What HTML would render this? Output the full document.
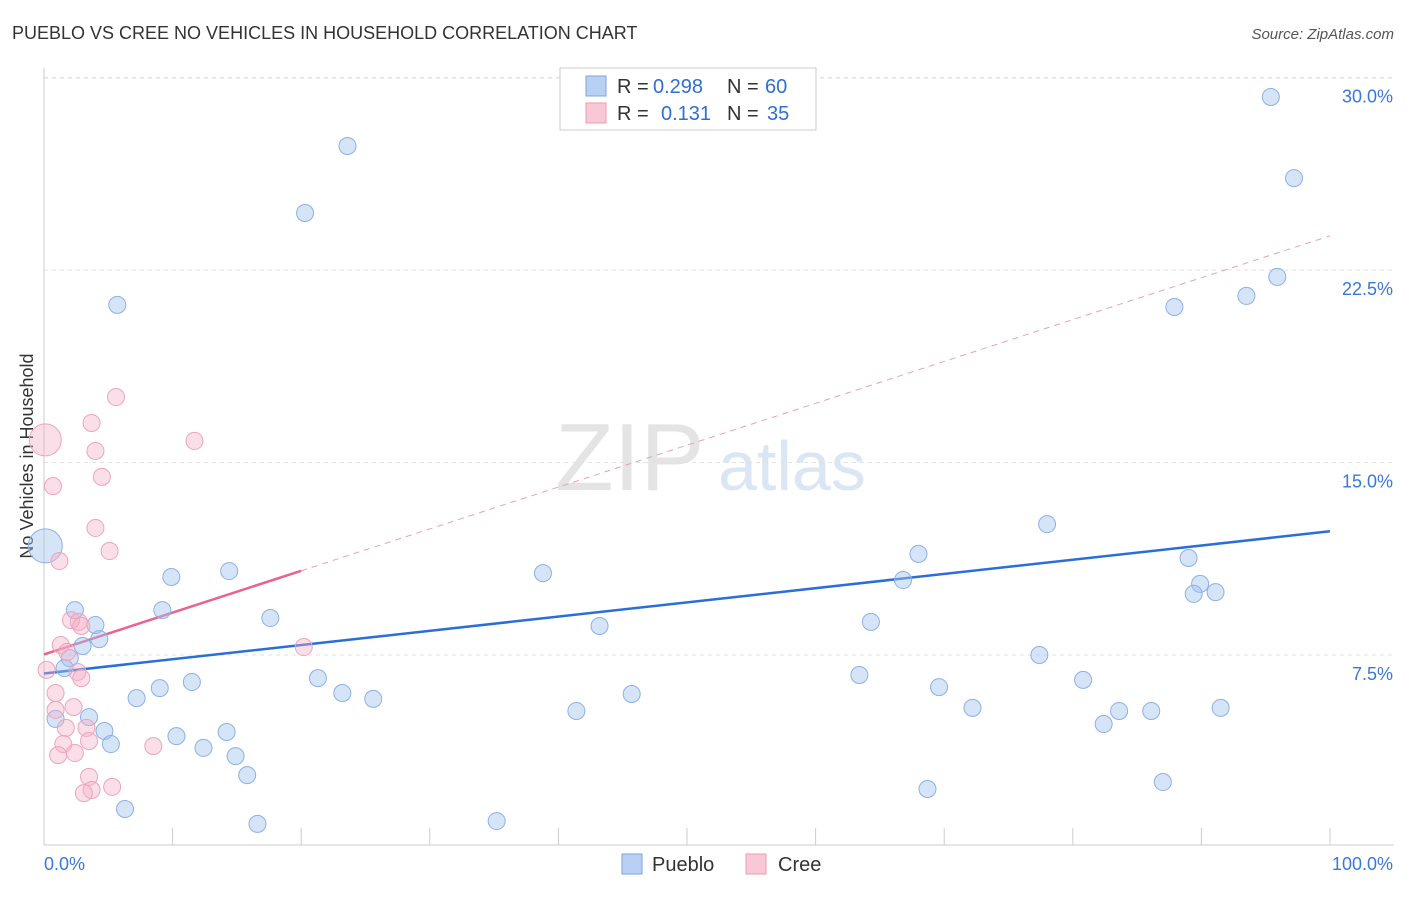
<!DOCTYPE html>
<html><head><meta charset="utf-8"><style>
body{margin:0;background:#fff;font-family:"Liberation Sans",sans-serif}
svg text{font-family:"Liberation Sans",sans-serif}
</style></head><body>
<svg id="chart" width="1406" height="892">
<text x="12" y="39" font-size="18" fill="#333">PUEBLO VS CREE NO VEHICLES IN HOUSEHOLD CORRELATION CHART</text>
<text x="1394" y="39" font-size="15" fill="#555" text-anchor="end" font-style="italic">Source: ZipAtlas.com</text>
<text x="33" y="456" font-size="18" fill="#333" text-anchor="middle" transform="rotate(-90 33 456)">No Vehicles in Household</text>
<text x="555" y="490" font-size="96" fill="#e4e4e4" font-family="Liberation Serif">ZIP</text>
<text x="718" y="490" font-size="70" fill="#dbe6f5">atlas</text>
<g id="grid"></g><g id="axes"></g><g id="lines"></g><g id="pts"></g>
<g>
<rect x="560" y="68" width="256" height="62" fill="#fff" stroke="#ccc"/>
<rect x="586" y="76" width="20" height="20" fill="#b7d0f3" stroke="#7ea6e0"/>
<text x="617" y="93" font-size="20" fill="#333">R =</text>
<text x="653" y="93" font-size="20" fill="#2f6fd0">0.298</text>
<text x="727" y="93" font-size="20" fill="#333">N =</text>
<text x="765" y="93" font-size="20" fill="#2f6fd0">60</text>
<rect x="586" y="103" width="20" height="20" fill="#f9c8d6" stroke="#ee9ab4"/>
<text x="617" y="120" font-size="20" fill="#333">R =</text>
<text x="661" y="120" font-size="20" fill="#2f6fd0">0.131</text>
<text x="727" y="120" font-size="20" fill="#333">N =</text>
<text x="767" y="120" font-size="20" fill="#2f6fd0">35</text>
</g>
<g>
<rect x="622" y="854" width="20" height="20" fill="#b7d0f3" stroke="#7ea6e0"/>
<text x="652" y="871" font-size="20" fill="#333">Pueblo</text>
<rect x="746" y="854" width="20" height="20" fill="#f9c8d6" stroke="#ee9ab4"/>
<text x="778" y="871" font-size="20" fill="#333">Cree</text>
</g>
</svg>
<script>
const yTicks=[7.5,15.0,22.5,30.0];
const yTickLabels=["7.5%","15.0%","22.5%","30.0%"];
const xTickLabels=["0.0%","100.0%"];
const puebloX=[95.4,23.6,97.2,20.3,95.9,93.5,87.9,5.7,78.0,89.0,68.0,38.8,14.4,9.9,66.8,89.9,89.4,91.1,2.4,9.2,17.6,64.3,43.2,4.0,4.3,3.0,77.4,2.0,1.6,63.4,21.3,80.8,11.5,9.0,69.6,45.7,23.2,7.2,25.6,72.2,91.5,83.6,86.1,41.4,0.9,3.5,82.4,4.7,14.2,10.3,5.2,12.4,14.9,15.8,87.0,68.7,6.3,35.2,16.6,0.1];
const puebloY=[29.24,27.33,26.08,24.72,22.23,21.49,21.06,21.14,12.60,11.28,11.44,10.69,10.77,10.54,10.42,10.27,9.88,9.95,9.25,9.25,8.94,8.79,8.63,8.67,8.12,7.85,7.50,7.38,6.99,6.72,6.60,6.53,6.45,6.21,6.25,5.98,6.02,5.82,5.79,5.44,5.44,5.32,5.32,5.32,5.01,5.08,4.81,4.54,4.50,4.34,4.03,3.88,3.56,2.82,2.55,2.28,1.50,1.03,0.92,11.75];
const creeX=[0.1,5.6,3.7,4.0,11.7,4.5,0.7,4.0,5.1,1.2,2.1,2.7,2.9,1.3,20.2,1.8,2.6,2.9,0.2,0.9,2.3,0.9,1.7,3.3,3.5,1.5,8.5,2.4,1.1,3.5,5.3,3.7,3.1];
const creeY=[15.88,17.55,16.54,15.45,15.84,14.44,14.08,12.45,11.55,11.16,8.86,8.79,8.63,7.89,7.81,7.62,6.84,6.60,6.92,6.02,5.47,5.36,4.66,4.66,4.15,4.03,3.95,3.68,3.60,2.75,2.36,2.24,2.12];
const puebloTrend=[6.78,12.32];
const creeTrend=[7.52,23.83];
const NS="http://www.w3.org/2000/svg";
const X=v=>44+v*12.86, Y=v=>847.5-v*25.667;
function mk(t,a,p){const e=document.createElementNS(NS,t);for(const k in a)e.setAttribute(k,a[k]);document.getElementById(p).appendChild(e);return e;}
yTicks.forEach((t,i)=>{
 const g=mk('line',{x1:44,x2:1394,y1:Y(t),y2:Y(t),stroke:'#e2e2e2','stroke-dasharray':'4,4'},'grid');
 
 
 const l=mk('text',{x:1393,y:Y(t)+25,'font-size':18,fill:'#3a78d8','text-anchor':'end'},'axes');
 l.textContent=yTickLabels[i];
 
 
});
mk('line',{x1:44,x2:1394,y1:78,y2:78,stroke:'#e2e2e2','stroke-dasharray':'4,4'},'grid');
mk('line',{x1:44,x2:44,y1:68,y2:845,stroke:'#ccc'},'axes');
const xa=mk('line',{x1:44,x2:1394,y1:845,y2:845,stroke:'#ccc'},'axes');


for(let i=0;i<=10;i++){mk('line',{x1:X(i*10),x2:X(i*10),y1:828,y2:845,stroke:'#ccc'},'axes');}
const xl0=mk('text',{x:44,y:870,'font-size':18,fill:'#3a78d8'},'axes');xl0.textContent=xTickLabels[0];


const xl1=mk('text',{x:1393,y:870,'font-size':18,fill:'#3a78d8','text-anchor':'end'},'axes');xl1.textContent=xTickLabels[1];


const bl=mk('line',{x1:X(0),y1:Y(puebloTrend[0]),x2:X(100),y2:Y(puebloTrend[1]),stroke:'#2a6fd6','stroke-width':2.5},'lines');


const cs=(creeTrend[1]-creeTrend[0])/100;
const cd=mk('line',{x1:X(20),y1:Y(creeTrend[0]+20*cs),x2:X(100),y2:Y(creeTrend[1]),stroke:'#e8a0b8','stroke-width':1,'stroke-dasharray':'6,5'},'lines');


const cl=mk('line',{x1:X(0),y1:Y(creeTrend[0]),x2:X(20),y2:Y(creeTrend[0]+20*cs),stroke:'#e8648e','stroke-width':2.5},'lines');


puebloX.forEach((x,i)=>{
 const c=mk('circle',{cx:X(x),cy:Y(puebloY[i]),r:i==puebloX.length-1?17:8.5,fill:'rgba(164,196,240,0.45)',stroke:'#8cb0e6','stroke-width':1},'pts');
 
 
});
creeX.forEach((x,i)=>{
 const c=mk('circle',{cx:X(x),cy:Y(creeY[i]),r:i==0?16:8.5,fill:'rgba(246,175,198,0.4)',stroke:'#eea3bc','stroke-width':1},'pts');
 
 
});
</script>
</body></html>
